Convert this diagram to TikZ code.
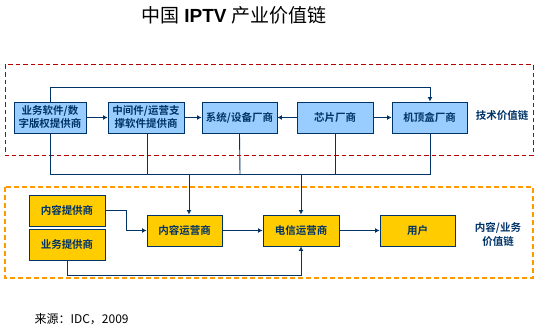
\documentclass[tikz,border=0pt]{standalone}
\usepackage{fontspec}
\setmainfont{Liberation Sans}
\newfontfamily\cjk{Noto Sans CJK SC}
\newfontfamily\cjkb{Noto Sans CJK SC Bold}
\usetikzlibrary{arrows.meta}
\definecolor{navy}{HTML}{003366}
\definecolor{lblue}{HTML}{99CCFF}
\definecolor{gold}{HTML}{FFCC00}
\definecolor{dred}{HTML}{B40000}
\definecolor{orng}{HTML}{FF9900}
\tikzset{
  techbox/.style={draw=navy, line width=0.9pt, fill=lblue, text=navy, font=\cjkb\fontsize{10.5}{13}\selectfont, align=center, inner sep=0pt},
  contbox/.style={draw=navy, line width=0.9pt, fill=gold, text=navy, font=\cjkb\fontsize{10.5}{13}\selectfont, align=center, inner sep=0pt},
  conn/.style={draw=navy, line width=0.9pt},
  arr/.style={conn, -{Latex[length=4.5pt,width=5pt]}},
  lbl/.style={text=navy, font=\cjkb\fontsize{10.5}{14}\selectfont, align=center},
}
\begin{document}
\begin{tikzpicture}[x=1pt,y=-1pt]
\useasboundingbox (0,0) rectangle (536,328);
% title
\node[font=\fontsize{19}{22}\selectfont] (title) at (234,15) {{\cjk 中国} \textbf{IPTV} {\cjk 产业价值链}};
% dashed frames
\draw[dred, dash pattern=on 4.5pt off 3pt, line width=1pt] (5,65) rectangle (533,156);
\draw[orng, dash pattern=on 5pt off 3pt, line width=1.4pt] (5,187) rectangle (533,278);
% tech boxes
\node[techbox, minimum width=72pt, minimum height=31pt] (b1) at (50,117.5) {业务软件/数\\字版权提供商};
\node[techbox, minimum width=76pt, minimum height=31pt] (b2) at (146,117.5) {中间件/运营支\\撑软件提供商};
\node[techbox, minimum width=75pt, minimum height=31pt] (b3) at (239.5,117.5) {系统/设备厂商};
\node[techbox, minimum width=76pt, minimum height=31pt] (b4) at (335,117.5) {芯片厂商};
\node[techbox, minimum width=75pt, minimum height=31pt] (b5) at (429.5,117.5) {机顶盒厂商};
\node[lbl] (tl) at (502,116) {技术价值链};
% content boxes
\node[contbox, minimum width=76pt, minimum height=31pt] (c1) at (67,210.5) {内容提供商};
\node[contbox, minimum width=76pt, minimum height=31pt] (c2) at (67,244.5) {业务提供商};
\node[contbox, minimum width=75pt, minimum height=31pt] (c3) at (184.5,230.5) {内容运营商};
\node[contbox, minimum width=76pt, minimum height=31pt] (c4) at (301,230.5) {电信运营商};
\node[contbox, minimum width=75pt, minimum height=31pt] (c5) at (417.5,230.5) {用户};
\node[lbl] (cl) at (498,234.5) {内容/业务\\价值链};
% source
\node[anchor=west, font=\cjk\fontsize{12}{14}\selectfont] (src) at (31,319) {来源：IDC，2009};
% coordinates
\coordinate (t1) at (50,87);
\coordinate (t2) at (430,87);
\coordinate (j1) at (50,174);
\coordinate (j2) at (430,174);
\coordinate (k1) at (189,174);
\coordinate (k2) at (301,174);
% tech connectors
\draw[arr] (b1.east) -- (b2.west);
\draw[arr] (b2.east) -- (b3.west);
\draw[arr] (b4.west) -- (b3.east);
\draw[arr] (b4.east) -- (b5.west);
\draw[arr] (b1.north) -- (t1) -- (t2) -- (b5.north -| t2);
% bus
\draw[conn] (b1.south) -- (j1) -- (j2) -- (b5.south -| j2);
\draw[conn] (b2.south -| 147,0) -- (147,174);
\draw[conn] (b3.south) -- (240,174);
\draw[conn] (b4.south) -- (335,174);
\draw[arr] (k1) -- (c3.north -| k1);
\draw[arr] (k2) -- (c4.north -| k2);
% content connectors
\draw[arr] (c1.east) -- (126,210.5) |- (c3.west);
\draw[arr] (c3.east) -- (c4.west);
\draw[arr] (c4.east) -- (c5.west);
\draw[arr] (c2.south) -- (67,275) -| (c4.south);
\end{tikzpicture}
\end{document}
